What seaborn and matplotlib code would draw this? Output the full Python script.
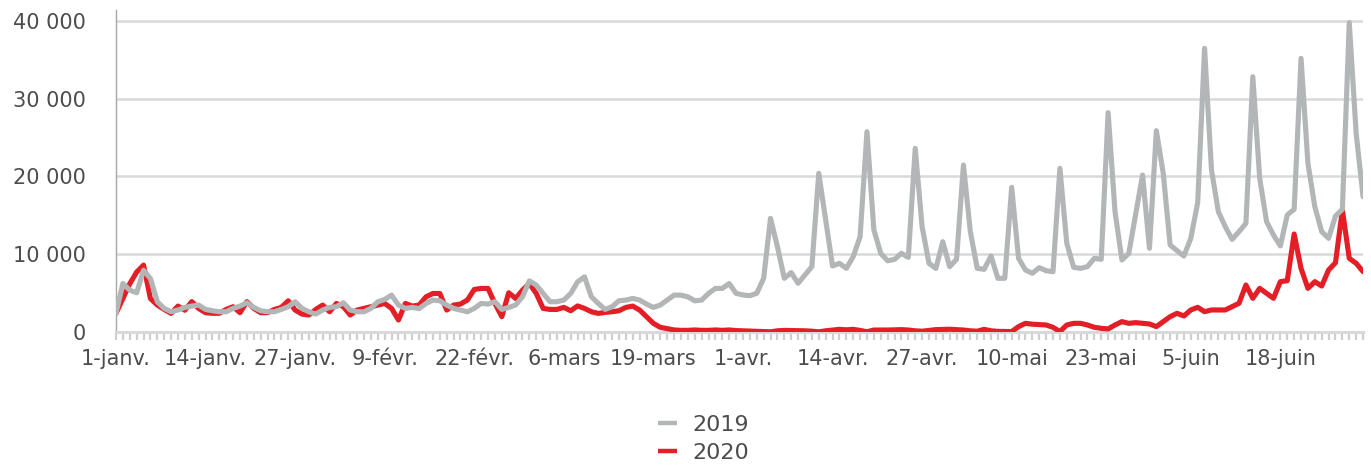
import matplotlib
matplotlib.use("Agg")
import matplotlib.pyplot as plt
import matplotlib.ticker as mticker
import numpy as np
import pandas as pd
import seaborn as sns

# daily values, 1 Jan -> 30 Jun
TICK_LABELS = ["1-janv.", "14-janv.", "27-janv.", "9-févr.", "22-févr.", "6-mars",
               "19-mars", "1-avr.", "14-avr.", "27-avr.", "10-mai", "23-mai",
               "5-juin", "18-juin"]

VALUES_2019 = [
    2390, 6230, 5380, 5040, 7940, 6870, 3890, 3030, 2600, 2820,
    3160, 3330, 3460, 2900, 2730, 2600, 2600, 3030, 3330, 3760,
    3160, 2730, 2600, 2600, 2900, 3250, 3890, 3030, 2600, 2300,
    2820, 3160, 3250, 3760, 2820, 2600, 2600, 3030, 3890, 4180,
    4740, 3460, 3030, 3160, 3000, 3670, 4100, 4010, 3460, 3030,
    2820, 2600, 3030, 3670, 3590, 3890, 2900, 3160, 3460, 4520,
    6580, 6020, 4950, 3890, 3890, 4100, 4950, 6450, 7090, 4520,
    3670, 2900, 3250, 4010, 4100, 4310, 4100, 3590, 3160, 3460,
    4100, 4740, 4740, 4520, 4010, 4100, 4950, 5600, 5600, 6230,
    4970, 4760, 4670, 4970, 6900, 14610, 10970, 6900, 7630, 6260,
    7330, 8400, 20400, 14400, 8480, 8830, 8180, 9680, 12250, 25750,
    13110, 10110, 9150, 9340, 10110, 9600, 23610, 13540, 8830, 8180,
    11610, 8400, 9340, 21470, 12900, 8180, 8060, 9770, 6900, 6900,
    18600, 9470, 7970, 7540, 8270, 7880, 7750, 21040, 11400, 8310,
    8180, 8400, 9470, 9340, 28200, 15470, 9260, 10110, 15170, 20180,
    10760, 25880, 20400, 11180, 10460, 9770, 12040, 16630, 36470, 20830,
    15470, 13540, 11910, 12900, 13970, 32820, 19750, 14180, 12470, 11060,
    15040, 15770, 35180, 21680, 16110, 12900, 12040, 14910, 15770, 39770,
    25540, 17400,
]

VALUES_2020 = [
    2400, 4300, 6200, 7700, 8600, 4300, 3460, 2900, 2400, 3330,
    2800, 3900, 3030, 2480, 2400, 2400, 2900, 3250, 2480, 3900,
    3030, 2480, 2480, 2900, 3160, 4010, 2820, 2300, 2180, 2900,
    3460, 2600, 3670, 3250, 2180, 2820, 3030, 3250, 3460, 3670,
    3030, 1540, 3670, 3330, 3460, 4520, 4950, 4950, 2820, 3460,
    3590, 4100, 5470, 5600, 5600, 3670, 1970, 5040, 4310, 5380,
    6230, 4950, 3030, 2900, 2900, 3160, 2730, 3350, 3030, 2600,
    2390, 2520, 2600, 2730, 3160, 3330, 2820, 1960, 1110, 600,
    430, 260, 210, 210, 260, 210, 210, 260, 210, 260,
    180, 150, 120, 100, 60, 20, 150, 200, 180, 170,
    150, 100, 20, 150, 250, 340, 280, 340, 200, 30,
    250, 250, 250, 280, 300, 250, 150, 100, 200, 300,
    320, 350, 300, 250, 150, 100, 340, 150, 80, 60,
    50, 690, 1110, 1000, 950, 900, 600, 50, 900, 1110,
    1110, 900, 600, 470, 390, 900, 1330, 1110, 1200, 1110,
    1030, 690, 1330, 1970, 2400, 2060, 2830, 3170, 2610, 2830,
    2830, 2830, 3260, 3690, 6040, 4330, 5610, 4970, 4330, 6470,
    6600, 12600, 8180, 5610, 6470, 5910, 7970, 8910, 15680, 9470,
    8830, 7760,
]

GRAY = "#b3b6b7"
RED = "#e41e26"
TEXT = "#4d4d4d"
LIGHT = "#d9d9d9"

sns.set_theme(style="white")
plt.rcParams["font.family"] = ["DejaVu Sans"]

df = pd.DataFrame({
    "day": np.arange(len(VALUES_2019)),
    "2019": VALUES_2019,
    "2020": VALUES_2020,
})

fig = plt.figure(figsize=(13.71, 4.66), dpi=100)
ax = fig.add_axes([0.0846, 0.2876, 0.9096, 0.691])

line_kw = dict(linewidth=3.7, solid_joinstyle="round", solid_capstyle="round")
sns.lineplot(data=df, x="day", y="2020", color=RED, ax=ax, zorder=3, **line_kw)
sns.lineplot(data=df, x="day", y="2019", color=GRAY, ax=ax, zorder=4, **line_kw)
if ax.get_legend():
    ax.get_legend().remove()

ax.set_xlim(0, len(VALUES_2019) - 1)
ax.set_ylim(0, 41400)
ax.set_xlabel("")
ax.set_ylabel("")

ax.set_xticks(np.arange(0, 13 * len(TICK_LABELS), 13))
ax.set_xticklabels(TICK_LABELS)
ax.xaxis.set_minor_locator(mticker.MultipleLocator(1))
ax.set_yticks([0, 10000, 20000, 30000, 40000])
ax.yaxis.set_major_formatter(
    mticker.FuncFormatter(lambda v, _: f"{int(v):,}".replace(",", " ")))

ax.set_axisbelow(True)
ax.yaxis.grid(True, color=LIGHT, linewidth=1.8)
ax.xaxis.grid(False)
for side in ["top", "right"]:
    ax.spines[side].set_visible(False)
ax.spines["left"].set_color("#a6a6a6")
ax.spines["left"].set_linewidth(1.0)
ax.spines["bottom"].set_color(LIGHT)
ax.spines["bottom"].set_linewidth(2.2)

ax.tick_params(axis="x", which="both", length=6, width=1.6, color="#cfcfcf",
               direction="out", bottom=True)
ax.tick_params(axis="x", which="major", labelsize=15, labelcolor=TEXT, pad=6)
ax.tick_params(axis="y", length=0, pad=22, labelsize=15, labelcolor=TEXT)

handles = [ax.lines[1], ax.lines[0]]
leg = fig.legend(handles, ["2019", "2020"], loc="center", bbox_to_anchor=(0.513, 0.058),
                 frameon=False, fontsize=16, labelcolor=TEXT, handlelength=0.85,
                 handletextpad=0.7, labelspacing=0.38, borderpad=0.2)
for h in leg.legend_handles:
    h.set_solid_capstyle("butt")
    h.set_linewidth(3.2)

fig.savefig("out.png", dpi=100)
